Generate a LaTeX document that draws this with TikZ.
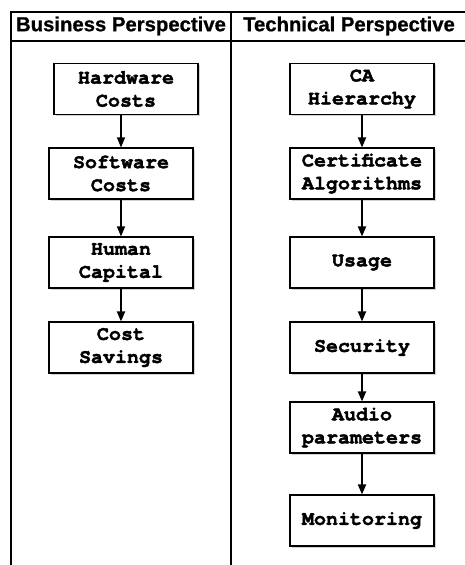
\documentclass[tikz,border=0pt]{standalone}
\usepackage{fontspec}
\setsansfont{Liberation Sans}[BoldFeatures={FakeBold=0.8}]
\setmonofont{texgyrecursor-regular.otf}[BoldFont=texgyrecursor-bold.otf, BoldFeatures={FakeBold=2}]
\usetikzlibrary{arrows.meta,shadows}

\begin{document}
\begin{tikzpicture}[
    x=1pt, y=-1pt,
    >={Triangle[length=10pt, width=8pt]},
    head/.style={font=\sffamily\bfseries\fontsize{20.3}{24}\selectfont},
    stage/.style={draw, line width=1.1pt, fill=white, minimum width=144pt, minimum height=51pt,
        inner sep=0pt, align=center, font=\ttfamily\bfseries\fontsize{20}{23}\selectfont,
        drop shadow={shadow xshift=1.5pt, shadow yshift=-1.5pt, fill=black!30, opacity=0.6}},
    flow/.style={->, line width=1.1pt},
    bold flow/.style={->, line width=1.8pt},
]
\useasboundingbox (0,0) rectangle (465,565);

% Table frame
\draw[line width=1.3pt] (11,565) -- (11,12) -- (466,12);
\draw[line width=1.3pt] (11,41) -- (466,41);
\draw[line width=1.3pt] (231,12) -- (231,565);

% Column headings
\node[head] (bus) at (121,26) {Business Perspective};
\node[head] (tec) at (349,26) {Technical Perspective};

% Business column
\node[stage] (hw) at (126,89)    {Hardware\\Costs};
\node[stage] (sw) at (121,173.5) {Software\\Costs};
\node[stage] (hc) at (121,262.5) {Human\\Capital};
\node[stage] (cs) at (121,347.5) {Cost\\Savings};

\draw[flow] (sw.north |- hw.south) -- (sw.north);
\draw[flow] (sw) -- (hc);
\draw[bold flow] (hc) -- (cs);

% Technical column
\node[stage] (ca)  at (362,89)    {CA\\Hierarchy};
\node[stage] (alg) at (362,173.5) {Certificate\\Algorithms};
\node[stage] (use) at (362,262.5) {Usage};
\node[stage] (sec) at (362,347.5) {Security};
\node[stage] (aud) at (362,427.5) {Audio\\parameters};
\node[stage] (mon) at (362,520.5) {Monitoring};

\draw[bold flow] (ca) -- (alg);
\draw[bold flow] (alg) -- (use);
\draw[bold flow] (use) -- (sec);
\draw[bold flow] (sec) -- (aud);
\draw[bold flow] (aud) -- (mon);

\end{tikzpicture}
\end{document}
